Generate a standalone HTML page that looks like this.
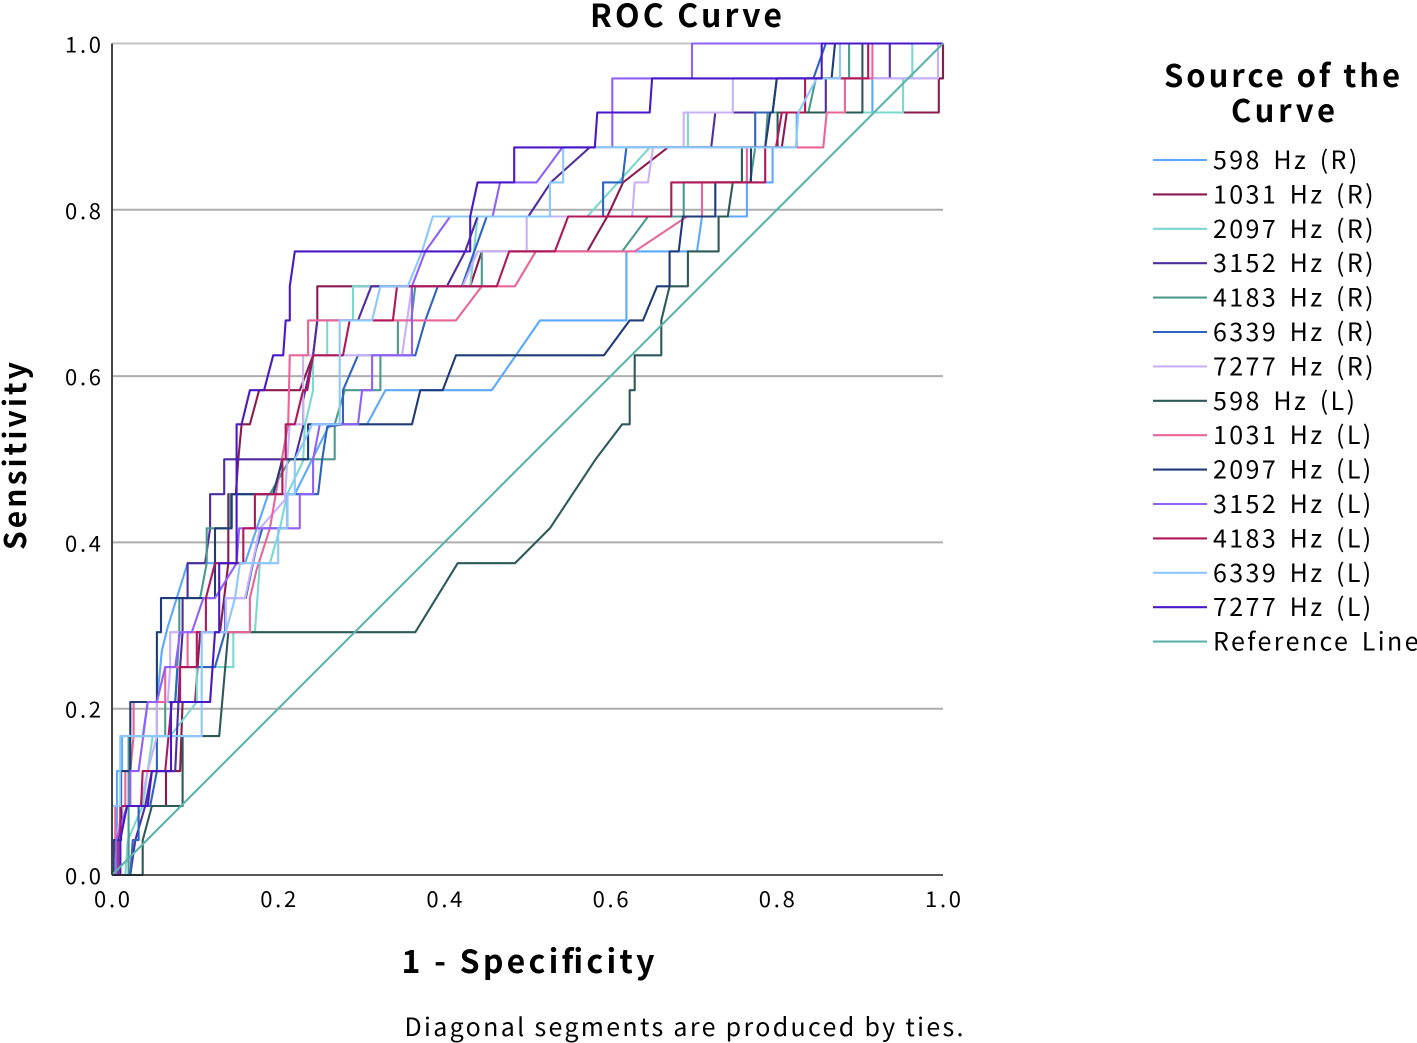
<!DOCTYPE html>
<html>
<head>
<meta charset="utf-8">
<title>ROC Curve</title>
<style>
html,body{margin:0;padding:0;background:#fff;}
svg{display:block;}
text{font-family:"Noto Sans CJK KR","Liberation Sans",sans-serif;fill:#000;}
.b{font-weight:700;}
</style>
</head>
<body>
<svg id="chart" width="1417" height="1043" viewBox="0 0 1417 1043" xmlns="http://www.w3.org/2000/svg">
<rect x="0" y="0" width="1417" height="1043" fill="#fff"/>
<text class="b" x="686" y="27" text-anchor="middle" font-size="32" textLength="192">ROC Curve</text>
<text class="b" transform="translate(26,456) rotate(-90)" text-anchor="middle" font-size="30" textLength="188">Sensitivity</text>
<text class="b" x="528" y="973" text-anchor="middle" font-size="32" textLength="253">1 - Specificity</text>
<text x="684" y="1036" text-anchor="middle" font-size="25" textLength="559">Diagonal segments are produced by ties.</text>
<text class="b" x="1282" y="87" text-anchor="middle" font-size="31" textLength="236">Source of the</text>
<text class="b" x="1283" y="122" text-anchor="middle" font-size="31" textLength="104">Curve</text>
<g id="grid"></g>
<g id="series"></g>
<g id="axes"></g>
<g id="legend"></g>
</svg>
<script>
const yTickValues=[0,0.2,0.4,0.6,0.8,1];
const xTickValues=[0,0.2,0.4,0.6,0.8,1];
const tickLabels=["0.0","0.2","0.4","0.6","0.8","1.0"];
const seriesNames=["598 Hz (R)","1031 Hz (R)","2097 Hz (R)","3152 Hz (R)","4183 Hz (R)","6339 Hz (R)","7277 Hz (R)","598 Hz (L)","1031 Hz (L)","2097 Hz (L)","3152 Hz (L)","4183 Hz (L)","6339 Hz (L)","7277 Hz (L)","Reference Line"];
const seriesColors=["#5aa8ff","#8b1a4f","#7ad8d0","#4f2d9e","#4c9a8e","#2e64c0","#c8b0fa","#2c5a58","#e8659a","#1f3c78","#9060fa","#b0185a","#8cc8ff","#4a18c8","#5cb3ac"];

const fpr598R=[0,.006,.006,.012,.012,.037,.043,.054,.06,.067,.091,.16,.188,.22,.262,.307,.329,.457,.515,.619,.619,.704,.71,.764,.764,.795,.795,.824,.824,.915,.915,1,1];
const tpr598R=[0,0,.125,.125,.167,.167,.208,.208,.27,.298,.375,.375,.458,.458,.542,.542,.583,.583,.667,.667,.75,.75,.792,.792,.833,.833,.875,.875,.917,.917,.958,.958,1];
const fpr1031R=[0,.007,.007,.013,.065,.065,.082,.085,.1,.106,.13,.14,.14,.149,.152,.156,.166,.177,.226,.242,.247,.247,.431,.445,.572,.596,.615,.669,.806,.812,.995,.995,1,1];
const tpr1031R=[0,0,.042,.083,.083,.125,.125,.208,.208,.292,.292,.375,.458,.458,.5,.542,.542,.583,.583,.625,.667,.708,.708,.75,.75,.792,.833,.875,.875,.917,.917,.958,.958,1];
const fpr2097R=[0,.016,.019,.037,.049,.07,.102,.102,.146,.146,.172,.178,.19,.202,.211,.23,.232,.242,.242,.259,.259,.29,.29,.431,.44,.572,.647,.693,.693,.952,.952,.963,.963,1];
const tpr2097R=[0,0,.042,.083,.167,.167,.208,.25,.25,.292,.292,.375,.375,.417,.458,.498,.54,.583,.625,.625,.667,.667,.708,.708,.792,.792,.875,.875,.917,.917,.958,.958,1,1];
const fpr3152R=[0,.022,.028,.04,.048,.076,.082,.085,.085,.091,.091,.112,.118,.118,.135,.135,.22,.23,.23,.242,.247,.296,.312,.403,.425,.44,.501,.528,.575,.721,.726,.859,.859,.936,.936,1];
const tpr3152R=[0,0,.042,.083,.125,.125,.25,.292,.333,.333,.375,.375,.417,.458,.458,.5,.5,.539,.571,.625,.667,.667,.708,.708,.75,.792,.792,.833,.875,.875,.917,.917,.958,.958,1,1];
const fpr4183R=[0,.02,.02,.064,.064,.076,.081,.081,.106,.114,.114,.142,.142,.19,.214,.268,.268,.28,.323,.323,.344,.344,.36,.365,.445,.445,.614,.645,.688,.688,.768,.774,.786,.789,.838,.847,.887,.887,1];
const tpr4183R=[0,0,.167,.167,.208,.208,.292,.333,.333,.375,.417,.417,.458,.458,.5,.5,.542,.583,.583,.625,.625,.667,.667,.708,.708,.75,.75,.792,.792,.833,.833,.875,.875,.917,.917,.958,.958,1,1];
const fpr6339R=[0,.022,.025,.032,.032,.046,.054,.054,.076,.079,.124,.136,.136,.161,.173,.181,.211,.211,.248,.253,.259,.278,.278,.296,.365,.377,.392,.421,.451,.591,.591,.614,.619,.774,.774,.795,.8,.844,.859,1];
const tpr6339R=[0,0,.042,.042,.083,.083,.125,.208,.208,.25,.25,.292,.333,.333,.391,.417,.417,.458,.458,.5,.539,.542,.583,.625,.625,.667,.708,.708,.792,.792,.833,.833,.875,.875,.917,.917,.958,.958,1,1];
const fpr7277R=[0,.005,.005,.013,.034,.043,.054,.054,.067,.07,.07,.137,.137,.16,.178,.208,.211,.214,.23,.23,.349,.361,.422,.44,.499,.499,.626,.629,.645,.651,.688,.688,.747,.747,.994,.994,1];
const tpr7277R=[0,0,.042,.083,.083,.125,.167,.208,.208,.25,.292,.292,.333,.333,.417,.451,.5,.542,.542,.625,.625,.708,.708,.75,.75,.792,.792,.833,.833,.875,.875,.917,.917,.958,.958,1,1];
const fpr598L=[0,.037,.037,.048,.085,.085,.129,.14,.365,.416,.485,.527,.582,.614,.623,.623,.629,.629,.661,.661,.671,.693,.693,.73,.73,.741,.747,.758,.758,.801,.801,.903,.903,1];
const tpr598L=[0,0,.042,.083,.083,.167,.167,.292,.292,.375,.375,.417,.5,.542,.542,.583,.583,.625,.625,.667,.708,.708,.75,.75,.792,.792,.833,.833,.875,.875,.917,.917,1,1];
const fpr1031L=[0,.004,.004,.016,.016,.022,.026,.026,.064,.064,.091,.091,.166,.166,.174,.19,.202,.212,.214,.236,.236,.414,.445,.485,.51,.629,.692,.71,.71,.764,.764,.856,.86,.882,.882,.915,.915,1];
const tpr1031L=[0,.042,.083,.083,.125,.125,.167,.208,.208,.25,.25,.292,.292,.333,.367,.417,.487,.542,.625,.625,.667,.667,.708,.708,.75,.75,.792,.792,.833,.833,.875,.875,.917,.917,.958,.958,1,1];
const fpr2097L=[0,.002,.002,.011,.011,.022,.022,.054,.054,.059,.059,.124,.124,.144,.144,.194,.205,.236,.236,.361,.371,.398,.414,.592,.623,.639,.656,.671,.671,.682,.687,.726,.726,.769,.769,.786,.792,.795,.8,.866,.87,1];
const tpr2097L=[0,0,.042,.042,.125,.125,.208,.208,.292,.292,.333,.333,.417,.417,.458,.458,.5,.5,.542,.542,.583,.583,.625,.625,.667,.667,.708,.708,.75,.75,.792,.792,.833,.833,.875,.875,.917,.917,.958,.958,1,1];
const fpr3152L=[0,.005,.005,.018,.022,.022,.032,.043,.054,.064,.076,.082,.096,.11,.124,.15,.153,.226,.226,.242,.242,.25,.296,.301,.313,.313,.361,.361,.377,.407,.458,.467,.511,.542,.602,.602,.698,.698,1];
const tpr3152L=[0,0,.042,.083,.083,.125,.125,.208,.208,.25,.25,.292,.292,.333,.333,.375,.417,.417,.458,.458,.5,.542,.542,.583,.583,.625,.625,.708,.75,.792,.792,.833,.833,.875,.875,.958,.958,1,1];
const fpr4183L=[0,.01,.01,.035,.037,.064,.072,.082,.082,.102,.102,.113,.113,.124,.158,.158,.172,.172,.205,.205,.209,.209,.22,.23,.235,.242,.278,.286,.338,.343,.463,.478,.533,.549,.673,.673,.786,.786,.799,.806,.834,.834,.91,.91,1];
const tpr4183L=[0,0,.083,.083,.125,.125,.208,.208,.25,.25,.292,.292,.333,.375,.375,.417,.417,.458,.458,.5,.5,.542,.542,.583,.583,.625,.625,.667,.667,.708,.708,.75,.75,.792,.792,.833,.833,.875,.875,.917,.917,.958,.958,1,1];
const fpr6339L=[0,0,.01,.01,.108,.108,.137,.148,.154,.2,.2,.211,.211,.22,.22,.232,.241,.274,.274,.313,.323,.356,.373,.386,.527,.527,.543,.543,.823,.826,.848,.876,.876,1];
const tpr6339L=[0,.083,.083,.167,.167,.292,.292,.333,.375,.375,.417,.417,.458,.458,.5,.523,.542,.542,.667,.667,.708,.708,.75,.792,.792,.833,.833,.875,.875,.917,.958,.958,1,1];
const fpr7277L=[0,.01,.01,.018,.043,.048,.071,.071,.118,.124,.129,.129,.15,.15,.156,.166,.183,.194,.206,.209,.214,.214,.22,.431,.431,.44,.484,.484,.581,.584,.647,.65,.854,.854,1];
const tpr7277L=[0,0,.042,.083,.083,.125,.125,.208,.208,.292,.292,.375,.375,.542,.542,.583,.583,.625,.625,.667,.667,.708,.75,.75,.792,.833,.833,.875,.875,.917,.917,.958,.958,1,1];
const fprReference=[0,1];
const tprReference=[0,1];

const allFpr=[fpr598R,fpr1031R,fpr2097R,fpr3152R,fpr4183R,fpr6339R,fpr7277R,fpr598L,fpr1031L,fpr2097L,fpr3152L,fpr4183L,fpr6339L,fpr7277L,fprReference];
const allTpr=[tpr598R,tpr1031R,tpr2097R,tpr3152R,tpr4183R,tpr6339R,tpr7277R,tpr598L,tpr1031L,tpr2097L,tpr3152L,tpr4183L,tpr6339L,tpr7277L,tprReference];

const NS="http://www.w3.org/2000/svg";
const plotLeft=112,plotRight=943,plotBottom=875,plotTop=43.5;
function xScale(v){return plotLeft+v*(plotRight-plotLeft);}
function yScale(v){return plotBottom-v*(plotBottom-plotTop);}
function slug(s){return s.toLowerCase().replace(/[()]/g,'').trim().replace(/\s+/g,'-');}
function make(tag,parent){const e=document.createElementNS(NS,tag);parent.appendChild(e);return e;}

const gridG=document.getElementById('grid');
const axesG=document.getElementById('axes');
const seriesG=document.getElementById('series');
const legendG=document.getElementById('legend');

yTickValues.forEach(function(v,i){
  if(v>0){
    const g=make('line',gridG);
    
    
    g.setAttribute('x1',plotLeft);g.setAttribute('x2',plotRight);
    g.setAttribute('y1',yScale(v));g.setAttribute('y2',yScale(v));
    g.setAttribute('stroke',v===1?'#c4c4c4':'#adadad');
    g.setAttribute('stroke-width','2');
  }
  const t=make('text',axesG);
  
  
  t.setAttribute('x',101);t.setAttribute('y',yScale(v)+9);
  t.setAttribute('text-anchor','end');t.setAttribute('font-size','22');
  t.setAttribute('textLength','36');
  t.textContent=tickLabels[i];
});
xTickValues.forEach(function(v,i){
  const t=make('text',axesG);
  
  
  t.setAttribute('x',xScale(v));t.setAttribute('y',907);
  t.setAttribute('text-anchor','middle');t.setAttribute('font-size','22');
  t.setAttribute('textLength','36');
  t.textContent=tickLabels[i];
});

const yAxis=make('line',axesG);


yAxis.setAttribute('x1',plotLeft);yAxis.setAttribute('x2',plotLeft);
yAxis.setAttribute('y1',plotTop);yAxis.setAttribute('y2',plotBottom);
yAxis.setAttribute('stroke','#444');yAxis.setAttribute('stroke-width','2');
const xAxis=make('line',axesG);


xAxis.setAttribute('x1',plotLeft);xAxis.setAttribute('x2',plotRight);
xAxis.setAttribute('y1',plotBottom);xAxis.setAttribute('y2',plotBottom);
xAxis.setAttribute('stroke','#222');xAxis.setAttribute('stroke-width','1.6');

seriesNames.forEach(function(name,i){
  const p=make('polyline',seriesG);
  
  
  p.setAttribute('fill','none');
  p.setAttribute('stroke',seriesColors[i]);
  p.setAttribute('stroke-width','2.1');
  p.setAttribute('stroke-linejoin','round');
  p.setAttribute('points',allFpr[i].map(function(x,j){return xScale(x).toFixed(1)+','+yScale(allTpr[i][j]).toFixed(1);}).join(' '));

  const rowY=160+i*34.4;
  const l=make('line',legendG);
  
  
  l.setAttribute('x1',1153);l.setAttribute('x2',1207);
  l.setAttribute('y1',rowY);l.setAttribute('y2',rowY);
  l.setAttribute('stroke',seriesColors[i]);l.setAttribute('stroke-width','2.1');
  const t=make('text',legendG);
  
  
  t.setAttribute('x',1213);t.setAttribute('y',rowY+9);
  t.setAttribute('font-size','25');
  t.setAttribute('letter-spacing','2.4');
  t.setAttribute('word-spacing','3.5');
  t.textContent=name;
});
</script>
</body>
</html>
